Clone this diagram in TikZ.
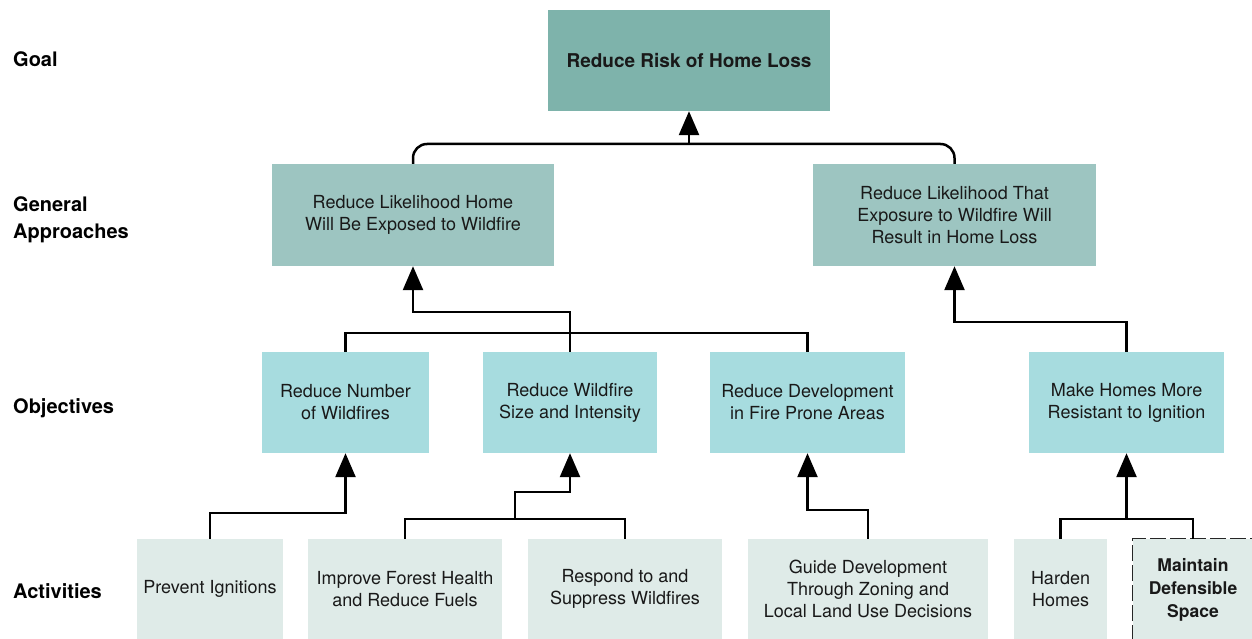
\documentclass[tikz,border=0pt]{standalone}
\usepackage{fontspec}
\setmainfont{TeX Gyre Heros}
\usepackage{xcolor}
\usepackage{tikz}
\usetikzlibrary{arrows.meta}

\definecolor{goalgreen}{HTML}{7EB3AB}
\definecolor{approachgreen}{HTML}{9DC5C1}
\definecolor{objcyan}{HTML}{A7DCDF}
\definecolor{actgray}{HTML}{DFEBE8}

\begin{document}
\begin{tikzpicture}[x=1pt,y=-1pt,
        box/.style={inner sep=0pt, align=center, text=black!90,
            font=\fontsize{18}{22}\selectfont},
        goalbox/.style={box, fill=goalgreen, minimum width=282pt, minimum height=101pt,
            font=\fontsize{19}{23}\selectfont\bfseries},
        approachbox/.style={box, fill=approachgreen, minimum height=102pt},
        objbox/.style={box, fill=objcyan, minimum height=101pt},
        actbox/.style={box, fill=actgray, minimum height=100pt},
        levellabel/.style={anchor=west, inner sep=0pt, align=left,
            font=\fontsize{20}{27}\selectfont\bfseries},
        link/.style={line width=2.5pt, black},
        arr/.style={link, -{Triangle[length=24pt,width=20pt]}}]

            \useasboundingbox (0,0) rectangle (1252,639);

            % level labels
            \node[levellabel] (lgoal) at (13,59) {Goal};
            \node[levellabel] (lapproach) at (13,220) {General\\Approaches};
            \node[levellabel] (lobj) at (13,408) {Objectives};
            \node[levellabel] (lact) at (13,591) {Activities};

            % boxes
            \node[goalbox] (goal) at (689,60.5) {Reduce Risk of Home Loss};

            \node[approachbox, minimum width=282pt] (ga1) at (413,215)
                {Reduce Likelihood Home\\Will Be Exposed to Wildfire};
            \node[approachbox, minimum width=283pt] (ga2) at (954.5,215)
                {Reduce Likelihood That\\Exposure to Wildfire Will\\Result in Home Loss};

            \node[objbox, minimum width=167pt] (o1) at (345.5,402.5) {Reduce Number\\of Wildfires};
            \node[objbox, minimum width=174pt] (o2) at (570,402.5) {Reduce Wildfire\\Size and Intensity};
            \node[objbox, minimum width=195pt] (o3) at (807.5,402.5) {Reduce Development\\in Fire Prone Areas};
            \node[objbox, minimum width=195pt] (o4) at (1126.5,402.5) {Make Homes More\\Resistant to Ignition};

            \node[actbox, minimum width=146pt] (a1) at (210,589) {Prevent Ignitions};
            \node[actbox, minimum width=194pt] (a2) at (405,589) {Improve Forest Health\\and Reduce Fuels};
            \node[actbox, minimum width=194pt] (a3) at (625,589) {Respond to and\\Suppress Wildfires};
            \node[actbox, minimum width=240pt] (a4) at (868,589) {Guide Development\\Through Zoning and\\Local Land Use Decisions};
            \node[actbox, minimum width=93pt] (a5) at (1060.5,589) {Harden\\Homes};
            \node[actbox, minimum width=120pt, minimum height=102pt,
                font=\fontsize{17.5}{23}\selectfont\bfseries] (a6) at (1193,590)
                {Maintain\\Defensible\\Space};
            \draw[black!85, line width=1pt, dash pattern=on 16pt off 4pt]
                (a6.south west) -- (a6.north west) -- (a6.north east);

            % goal
            \coordinate (gj) at (689,144);
            \draw[link, rounded corners=14pt] (ga1.north) |- (gj) -| (ga2.north);
            \draw[arr] (gj) -- (goal.south);

            % general approaches
            \draw[link] (o1.north) |- (o3.north |- 0,333) -- (o3.north);
            \draw[arr] (o2.north) |- (ga1.south |- 0,312) -- (ga1.south);
            \draw[arr] (o4.north) |- (ga2.south |- 0,322) -- (ga2.south);

            % objectives
            \draw[arr] (a1.north) |- (o1.south |- 0,513) -- (o1.south);

            \coordinate (j2) at (515,519);
            \draw[link] (a2.north) |- (a3.north |- j2) -- (a3.north);
            \draw[arr] (j2) |- (o2.south |- 0,492) -- (o2.south);

            \draw[arr] (a4.north) |- (o3.south |- 0,510) -- (o3.south);

            \draw[link] (a5.north) |- (a6.north |- 0,519) -- (a6.north);
            \draw[arr] (o4.south |- 0,519) -- (o4.south);
        \end{tikzpicture}
\end{document}
